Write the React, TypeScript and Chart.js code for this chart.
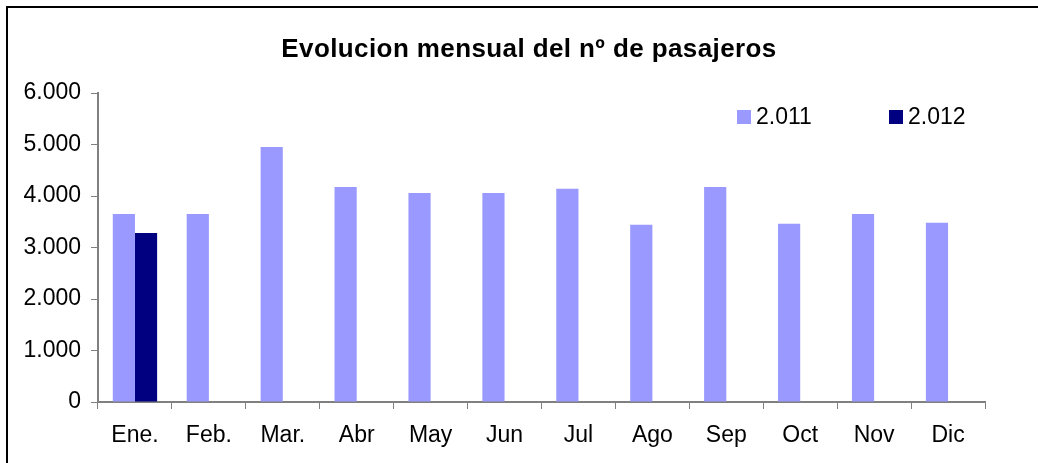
import React, { useEffect, useRef } from "react";
import { Chart, registerables } from "chart.js";

Chart.register(...registerables);

const TITLE = "Evolucion mensual del nº de pasajeros";
const MONTHS = ["Ene.", "Feb.", "Mar.", "Abr", "May", "Jun", "Jul", "Ago", "Sep", "Oct", "Nov", "Dic"];
const SERIES_2011_LABEL = "2.011";
const SERIES_2012_LABEL = "2.012";
const VALUES_2011 = [3650, 3650, 4950, 4175, 4060, 4060, 4140, 3440, 4175, 3460, 3650, 3480];
const VALUES_2012 = [3280, null, null, null, null, null, null, null, null, null, null, null];
const Y_MIN = 0;
const Y_MAX = 6000;
const Y_STEP = 1000;

const COLOR_2011 = "#9999FF";
const COLOR_2012 = "#000080";
const AXIS_COLOR = "#808080";
const FONT = "'Liberation Sans', Arial, sans-serif";

const formatThousands = (v: number) =>
  String(v).replace(/\B(?=(\d{3})+(?!\d))/g, ".");

const titlePlugin = {
  id: "customTitle",
  afterDraw(chart: any) {
    const ctx = chart.ctx;
    ctx.save();
    ctx.font = `bold 26px ${FONT}`;
    try {
      (ctx as any).letterSpacing = "0.4px";
    } catch (e) {}
    ctx.fillStyle = "#000";
    ctx.textAlign = "center";
    ctx.textBaseline = "alphabetic";
    ctx.fillText(TITLE, 529, 57);
    ctx.restore();
  },
};

const legendPlugin = {
  id: "customLegend",
  afterDraw(chart: any) {
    const ctx = chart.ctx;
    const startX = 737;
    const stride = 152;
    const boxY = 110;
    const box = 14;
    ctx.save();
    ctx.font = `23px ${FONT}`;
    ctx.textBaseline = "middle";
    ctx.textAlign = "left";
    chart.data.datasets.forEach((ds: any, i: number) => {
      const x = startX + i * stride;
      ctx.fillStyle = ds.backgroundColor;
      ctx.fillRect(x, boxY, box, box);
      ctx.fillStyle = "#000";
      ctx.fillText(ds.label, x + box + 5, boxY + box / 2 + 1);
    });
    ctx.restore();
  },
};

export default function App() {
  const canvasRef = useRef<HTMLCanvasElement | null>(null);

  useEffect(() => {
    if (!canvasRef.current) return;
    const chart = new Chart(canvasRef.current, {
      type: "bar",
      data: {
        labels: MONTHS,
        datasets: [
          {
            label: SERIES_2011_LABEL,
            data: VALUES_2011,
            backgroundColor: COLOR_2011,
            borderWidth: 0,
            categoryPercentage: 0.6,
            barPercentage: 1,
          },
          {
            label: SERIES_2012_LABEL,
            data: VALUES_2012 as any,
            backgroundColor: COLOR_2012,
            borderWidth: 0,
            categoryPercentage: 0.6,
            barPercentage: 1,
          },
        ],
      },
      options: {
        responsive: false,
        animation: false,
        devicePixelRatio: 1,
        layout: { padding: { left: 0, right: 53, top: 93, bottom: 0 } },
        plugins: {
          legend: { display: false },
          tooltip: { enabled: false },
          title: { display: false },
        },
        scales: {
          x: {
            grid: {
              offset: true,
              drawOnChartArea: false,
              drawTicks: true,
              tickLength: 7,
              color: AXIS_COLOR,
              lineWidth: 1,
            },
            border: { display: true, color: AXIS_COLOR, width: 2 },
            ticks: {
              color: "#000",
              font: { family: FONT, size: 23 },
              padding: 13,
              maxRotation: 0,
              autoSkip: false,
            },
            afterFit(scale: any) {
              scale.height = 61;
            },
          },
          y: {
            min: Y_MIN,
            max: Y_MAX,
            grid: {
              drawOnChartArea: false,
              drawTicks: true,
              tickLength: 7,
              color: AXIS_COLOR,
              lineWidth: 1,
            },
            border: { display: true, color: AXIS_COLOR, width: 2 },
            ticks: {
              stepSize: Y_STEP,
              color: "#000",
              font: { family: FONT, size: 23 },
              padding: 10,
              callback: (v: any) => formatThousands(Number(v)),
            },
            afterFit(scale: any) {
              scale.width = 98;
            },
          },
        },
      },
      plugins: [titlePlugin, legendPlugin],
    });
    return () => chart.destroy();
  }, []);

  return (
    <div
      style={{
        position: "fixed",
        left: 0,
        top: 0,
        width: 1038,
        height: 463,
        background: "#fff",
        overflow: "hidden",
      }}
    >
      <div
        style={{
          position: "absolute",
          left: 6,
          top: 6,
          width: 1200,
          height: 700,
          border: "2px solid #000",
          boxSizing: "border-box",
        }}
      />
      <canvas
        ref={canvasRef}
        width={1038}
        height={463}
        style={{ position: "absolute", left: 0, top: 0, width: 1038, height: 463 }}
      />
    </div>
  );
}
